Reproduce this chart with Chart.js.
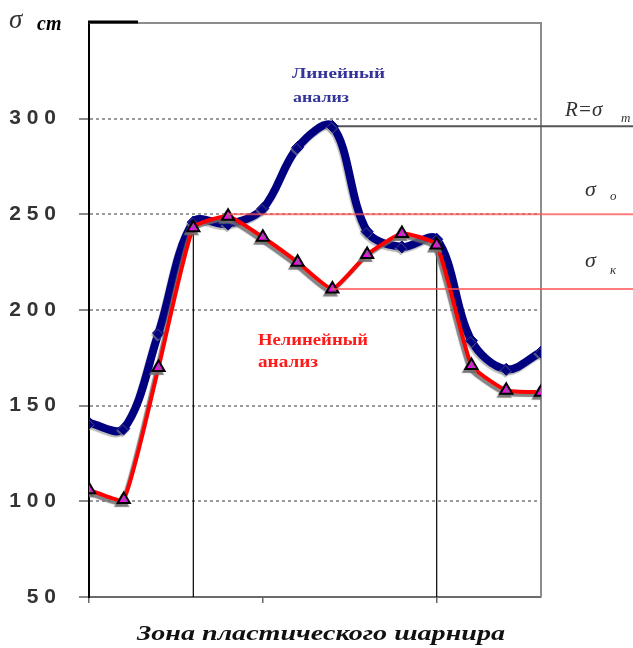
<!DOCTYPE html>
<html>
<head>
<meta charset="utf-8">
<script src="https://cdn.jsdelivr.net/npm/chart.js@4/dist/chart.umd.min.js"></script>
<style>
  html, body { margin: 0; padding: 0; background: #ffffff; }
  canvas { display: block; }
</style>
</head>
<body>
<canvas id="chart" width="633" height="648"></canvas>
<script>
// Sections along the plastic hinge zone
const positions = [0, 1, 2, 3, 4, 5, 6, 7, 8, 9, 10, 11, 12, 13];
// Stress from the linear analysis
const linearStress = [141, 138, 188, 246, 245, 253, 285, 296, 241, 233, 237, 184, 169, 178];
// Stress from the nonlinear analysis
const nonlinearStress = [106, 101, 170, 243, 249, 238, 225, 211, 229, 240, 234, 171, 158, 157];
// Value axis ticks
const yTickValues = [50, 100, 150, 200, 250, 300];
const yMin = 50, yMax = 350, yStep = 50;
// Reference stress levels: R = σт, σо, σк and the section each one starts from
const levelValues = [296, 250, 211];
const levelFrom = [7, 4, 7];
// Sections bounding the hinge zone
const zoneBounds = [3, 10];

const SERIF = '"Liberation Serif", "Times New Roman", serif';
const SANS = '"Liberation Sans", Arial, sans-serif';

function fitText(ctx, text, x, y, w, font, color) {
  ctx.save();
  ctx.font = font;
  ctx.fillStyle = color;
  ctx.textAlign = 'left';
  ctx.textBaseline = 'alphabetic';
  const m = ctx.measureText(text).width;
  ctx.translate(x, y);
  ctx.scale(w / m, 1);
  ctx.fillText(text, 0, 0);
  ctx.restore();
}

function plainText(ctx, text, x, y, font, color) {
  ctx.save();
  ctx.font = font;
  ctx.fillStyle = color;
  ctx.textAlign = 'left';
  ctx.textBaseline = 'alphabetic';
  ctx.fillText(text, x, y);
  ctx.restore();
}

const shadowPlugin = {
  id: 'seriesShadow',
  beforeDatasetDraw(chart, args) {
    const ctx = chart.ctx;
    ctx.save();
    if (args.index === 0) {
      ctx.shadowColor = 'rgba(110,110,110,0.85)';
      ctx.shadowOffsetX = -2; ctx.shadowOffsetY = 3; ctx.shadowBlur = 1;
    } else {
      ctx.shadowColor = 'rgba(140,140,140,0.6)';
      ctx.shadowOffsetX = -1; ctx.shadowOffsetY = 2; ctx.shadowBlur = 1;
    }
  },
  afterDatasetDraw(chart) {
    chart.ctx.restore();
  }
};

const decorPlugin = {
  id: 'decor',
  beforeDatasetsDraw(chart) {
    const { ctx, chartArea: a, scales: { x, y } } = chart;
    ctx.save();
    // frame: top and right edges
    ctx.strokeStyle = '#8c8c8c';
    ctx.lineWidth = 2;
    ctx.beginPath();
    ctx.moveTo(a.left, a.top);
    ctx.lineTo(a.right, a.top);
    ctx.lineTo(a.right, a.bottom);
    ctx.stroke();
    ctx.strokeStyle = '#000';
    ctx.lineWidth = 3;
    ctx.beginPath();
    ctx.moveTo(a.left - 1, a.top - 1);
    ctx.lineTo(a.left + 49, a.top - 1);
    ctx.stroke();
    // R = σт level
    ctx.strokeStyle = '#555';
    ctx.lineWidth = 2;
    const yr = y.getPixelForValue(levelValues[0]);
    ctx.beginPath();
    ctx.moveTo(x.getPixelForValue(levelFrom[0]), yr);
    ctx.lineTo(chart.width, yr);
    ctx.stroke();
    // hinge zone bounds
    ctx.strokeStyle = '#000';
    ctx.lineWidth = 1.2;
    zoneBounds.forEach(i => {
      const px = x.getPixelForValue(positions[i]);
      ctx.beginPath();
      ctx.moveTo(px, y.getPixelForValue(nonlinearStress[i]));
      ctx.lineTo(px, a.bottom);
      ctx.stroke();
    });
    ctx.restore();
  },
  afterDatasetsDraw(chart) {
    const { ctx, scales: { x, y } } = chart;
    ctx.save();
    ctx.strokeStyle = 'rgba(255,80,80,0.75)';
    ctx.lineWidth = 2;
    [1, 2].forEach(k => {
      const py = y.getPixelForValue(levelValues[k]);
      ctx.beginPath();
      ctx.moveTo(x.getPixelForValue(levelFrom[k]), py);
      ctx.lineTo(chart.width, py);
      ctx.stroke();
    });
    ctx.restore();
  },
  afterDraw(chart) {
    const { ctx, scales: { y } } = chart;
    // axis caption σст
    plainText(ctx, 'σ', 9, 28, 'italic 27px ' + SERIF, '#333');
    plainText(ctx, 'ст', 37, 30, 'italic bold 20px ' + SERIF, '#000');
    // level captions
    const yT = y.getPixelForValue(levelValues[0]);
    const yO = y.getPixelForValue(levelValues[1]);
    const yK = y.getPixelForValue(levelValues[2]);
    plainText(ctx, 'R=σ', 565, yT - 10, 'italic 21px ' + SERIF, '#333');
    plainText(ctx, 'т', 621, yT - 4, 'italic 13px ' + SERIF, '#333');
    plainText(ctx, 'σ', 585, yO - 18, 'italic 22px ' + SERIF, '#333');
    plainText(ctx, 'о', 610, yO - 14, 'italic 13px ' + SERIF, '#333');
    plainText(ctx, 'σ', 585, yK - 22, 'italic 22px ' + SERIF, '#333');
    plainText(ctx, 'к', 610, yK - 15, 'italic 13px ' + SERIF, '#333');
    // series captions
    fitText(ctx, 'Линейный', 292, 78, 93, 'bold 15px ' + SERIF, '#333399');
    fitText(ctx, 'анализ', 293, 102, 56, 'bold 15px ' + SERIF, '#333399');
    fitText(ctx, 'Нелинейный', 258, 345, 110, 'bold 17px ' + SERIF, '#ff1a1a');
    fitText(ctx, 'анализ', 258, 367, 60, 'bold 17px ' + SERIF, '#ff1a1a');
    // axis title
    fitText(ctx, 'Зона пластического шарнира', 137, 640, 368, 'italic bold 22px ' + SERIF, '#111');
  }
};

new Chart(document.getElementById('chart'), {
  type: 'line',
  data: {
    datasets: [
      {
        label: 'Нелинейный анализ',
        data: positions.map((p, i) => ({ x: p, y: nonlinearStress[i] })),
        borderColor: '#ff0000',
        borderWidth: 4,
        tension: 0.15,
        pointStyle: 'triangle',
        pointRadius: 7,
        pointBackgroundColor: '#ff00ff',
        pointBorderColor: '#000000',
        pointBorderWidth: 2,
        order: 0
      },
      {
        label: 'Линейный анализ',
        data: positions.map((p, i) => ({ x: p, y: linearStress[i] })),
        borderColor: '#000080',
        borderWidth: 8,
        tension: 0.35,
        pointStyle: 'rectRot',
        pointRadius: 6,
        pointBackgroundColor: '#000080',
        pointBorderColor: '#000080',
        pointBorderWidth: 1,
        order: 1
      }
    ]
  },
  options: {
    responsive: false,
    animation: false,
    devicePixelRatio: 1,
    layout: { padding: { top: 23, right: 92, left: 0, bottom: 0 } },
    plugins: { legend: { display: false }, tooltip: { enabled: false } },
    scales: {
      x: {
        type: 'linear',
        min: positions[0],
        max: positions[positions.length - 1],
        afterFit(scale) { scale.height = 51; scale.paddingLeft = 0; scale.paddingRight = 0; },
        ticks: { display: false, stepSize: 5, includeBounds: false },
        grid: {
          display: true,
          drawOnChartArea: false,
          drawTicks: true,
          tickLength: 6,
          tickColor: '#666',
          lineWidth: 1.5
        },
        border: { display: true, color: '#6a6a6a', width: 2 }
      },
      y: {
        type: 'linear',
        min: yMin,
        max: yMax,
        afterFit(scale) {
          scale.width = 89;
          scale.paddingTop = 0;
          scale.paddingBottom = 0;
        },
        ticks: {
          stepSize: yStep,
          padding: 23,
          color: '#333',
          font: { family: SANS, size: 21, weight: 'bold' },
          callback: v => yTickValues.includes(v) ? String(v).split('').join(' ') : ''
        },
        grid: {
          color: c => (c.tick && c.tick.value === yMax) ? 'rgba(0,0,0,0)' : '#9a9a9a',
          tickColor: c => (c.tick && c.tick.value === yMax) ? 'rgba(0,0,0,0)' : '#8a8a8a',
          lineWidth: 2,
          tickLength: 10
        },
        border: { display: true, color: '#000', width: 2, dash: [3, 3] }
      }
    }
  },
  plugins: [shadowPlugin, decorPlugin]
});
</script>
</body>
</html>
